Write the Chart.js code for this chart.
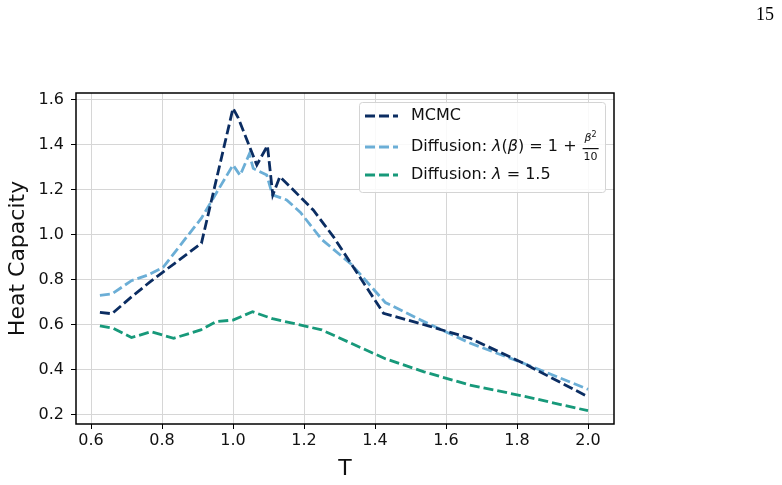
<!DOCTYPE html>
<html>
<head>
<meta charset="utf-8">
<script src="https://cdn.jsdelivr.net/npm/chart.js@4.4.1/dist/chart.umd.min.js"></script>
<style>
  html, body { margin: 0; padding: 0; background: #fff; }
  canvas { display: block; }
</style>
</head>
<body>
<canvas id="myChart" width="782" height="485"></canvas>
<script>
// temperatures and heat capacities
var tempMCMC = [0.625, 0.659, 0.714, 0.769, 0.800, 0.911, 1.0, 1.015, 1.067, 1.097, 1.112, 1.132, 1.17, 1.226, 1.283, 1.424, 1.55, 1.668, 1.818, 2.0];
var heatMCMC = [0.656, 0.650, 0.725, 0.795, 0.832, 0.963, 1.563, 1.519, 1.311, 1.397, 1.178, 1.259, 1.200, 1.111, 0.992, 0.652, 0.596, 0.541, 0.430, 0.281];

var tempDiffBeta = [0.625, 0.659, 0.714, 0.760, 0.803, 0.911, 1.0, 1.02, 1.046, 1.057, 1.095, 1.111, 1.151, 1.19, 1.25, 1.333, 1.429, 1.538, 1.667, 1.818, 2.0];
var heatDiffBeta = [0.732, 0.738, 0.797, 0.822, 0.856, 1.075, 1.311, 1.265, 1.360, 1.296, 1.267, 1.178, 1.156, 1.100, 0.980, 0.870, 0.700, 0.615, 0.520, 0.430, 0.314];

var tempDiffConst = [0.625, 0.663, 0.714, 0.769, 0.833, 0.909, 0.952, 1.0, 1.055, 1.111, 1.176, 1.25, 1.429, 1.538, 1.667, 1.818, 2.0];
var heatDiffConst = [0.596, 0.585, 0.544, 0.570, 0.541, 0.578, 0.615, 0.622, 0.659, 0.628, 0.605, 0.578, 0.450, 0.392, 0.333, 0.284, 0.219];

var xTicks = [0.6, 0.8, 1.0, 1.2, 1.4, 1.6, 1.8, 2.0];
var yTicks = [0.2, 0.4, 0.6, 0.8, 1.0, 1.2, 1.4, 1.6];

var colMCMC = '#0b2d62';
var colBeta = '#6baed6';
var colConst = '#17997a';

function pts(xs, ys) {
    return xs.map(function (x, i) { return { x: x, y: ys[i] }; });
}

function lineSet(label, xs, ys, color) {
    return {
        label: label,
        data: pts(xs, ys),
        borderColor: color,
        backgroundColor: color,
        borderWidth: 2.8,
        borderDash: [10, 4],
        pointRadius: 0,
        tension: 0,
        fill: false
    };
}

// rich text helper: parts = [{t, it, size, dy}]
function drawParts(ctx, x, y, parts) {
    parts.forEach(function (p) {
        var sz = p.size || 16;
        ctx.font = (p.it ? 'italic ' : '') + sz + 'px "DejaVu Sans"';
        ctx.fillText(p.t, x, y + (p.dy || 0));
        x += ctx.measureText(p.t).width;
    });
    return x;
}

var framePlugin = {
    id: 'frame',
    afterDraw: function (chart) {
        var ctx = chart.ctx, a = chart.chartArea;
        ctx.save();
        ctx.strokeStyle = '#000';
        ctx.lineWidth = 1.5;
        ctx.strokeRect(a.left, a.top, a.right - a.left, a.bottom - a.top);

        // legend box
        var bx = 359, by = 102, bw = 246, bh = 90;
        ctx.fillStyle = 'rgba(255,255,255,0.85)';
        ctx.strokeStyle = '#d4d4d4';
        ctx.lineWidth = 1;
        ctx.beginPath();
        ctx.roundRect(bx + 0.5, by + 0.5, bw, bh, 3);
        ctx.fill();
        ctx.stroke();

        var rows = [116, 147, 175];
        var cols = [colMCMC, colBeta, colConst];
        ctx.lineWidth = 2.8;
        ctx.setLineDash([10, 4]);
        rows.forEach(function (ry, i) {
            ctx.strokeStyle = cols[i];
            ctx.beginPath();
            ctx.moveTo(365, ry);
            ctx.lineTo(398, ry);
            ctx.stroke();
        });
        ctx.setLineDash([]);

        ctx.fillStyle = '#111';
        ctx.textBaseline = 'middle';
        ctx.textAlign = 'left';
        drawParts(ctx, 411, rows[0], [{ t: 'MCMC' }]);
        var ex = drawParts(ctx, 411, rows[1], [
            { t: 'Diffusion: ' }, { t: 'λ', it: true }, { t: '(' }, { t: 'β', it: true }, { t: ') = 1 + ' }
        ]);
        // fraction beta^2 / 10
        ctx.font = 'italic 11px "DejaVu Sans"';
        var bW = ctx.measureText('β').width;
        ctx.font = '8px "DejaVu Sans"';
        var sW = ctx.measureText('2').width;
        ctx.font = '11px "DejaVu Sans"';
        var tW = ctx.measureText('10').width;
        var fw = Math.max(bW + sW, tW) + 2;
        var fx = ex + 1;
        drawParts(ctx, fx + (fw - bW - sW) / 2, rows[1] - 9, [{ t: 'β', it: true, size: 11 }, { t: '2', size: 8, dy: -3 }]);
        ctx.fillRect(fx, rows[1] + 1, fw, 1.2);
        drawParts(ctx, fx + (fw - tW) / 2, rows[1] + 10, [{ t: '10', size: 11 }]);

        drawParts(ctx, 411, rows[2], [
            { t: 'Diffusion: ' }, { t: 'λ', it: true }, { t: ' = 1.5' }
        ]);

        // page number
        ctx.font = '18px "Liberation Serif"';
        ctx.fillStyle = '#000';
        ctx.textAlign = 'right';
        ctx.fillText('15', 774, 15);
        ctx.restore();
    }
};

window.onload = function () {
    var ctx = document.getElementById('myChart').getContext('2d');

    window.myChart = new Chart(ctx, {
        type: 'line',
        data: {
            datasets: [
                lineSet('MCMC', tempMCMC, heatMCMC, colMCMC),
                lineSet('Diffusion: λ(β) = 1 + β²/10', tempDiffBeta, heatDiffBeta, colBeta),
                lineSet('Diffusion: λ = 1.5', tempDiffConst, heatDiffConst, colConst)
            ]
        },
        plugins: [framePlugin],
        options: {
            responsive: false,
            animation: false,
            devicePixelRatio: 1,
            layout: { padding: { left: 0, top: 93, right: 168, bottom: 0 } },
            plugins: {
                legend: { display: false },
                tooltip: { enabled: false }
            },
            scales: {
                x: {
                    type: 'linear',
                    min: 0.5577,
                    max: 2.0732,
                    afterBuildTicks: function (s) { s.ticks = xTicks.map(function (v) { return { value: v }; }); },
                    afterFit: function (s) { s.height = 61; },
                    grid: { color: '#d6d6d6', lineWidth: 1, tickColor: '#000', tickLength: 5, tickWidth: 1 },
                    border: { display: false },
                    ticks: {
                        color: '#111',
                        padding: 2,
                        maxRotation: 0,
                        font: { family: 'DejaVu Sans', size: 16 },
                        callback: function (v) { return v.toFixed(1); }
                    },
                    title: {
                        display: true,
                        text: 'T',
                        color: '#111',
                        padding: { top: 0, bottom: 3 },
                        font: { family: 'DejaVu Sans', size: 22 }
                    }
                },
                y: {
                    min: 0.16,
                    max: 1.631,
                    afterBuildTicks: function (s) { s.ticks = yTicks.map(function (v) { return { value: v }; }); },
                    afterFit: function (s) { s.width = 76; },
                    grid: { color: '#d6d6d6', lineWidth: 1, tickColor: '#000', tickLength: 5, tickWidth: 1 },
                    border: { display: false },
                    ticks: {
                        color: '#111',
                        padding: 7,
                        font: { family: 'DejaVu Sans', size: 16 },
                        callback: function (v) { return v.toFixed(1); }
                    },
                    title: {
                        display: true,
                        text: 'Heat Capacity',
                        color: '#111',
                        padding: { top: 5, bottom: 0 },
                        font: { family: 'DejaVu Sans', size: 22 }
                    }
                }
            }
        }
    });
};
</script>
</body>
</html>
